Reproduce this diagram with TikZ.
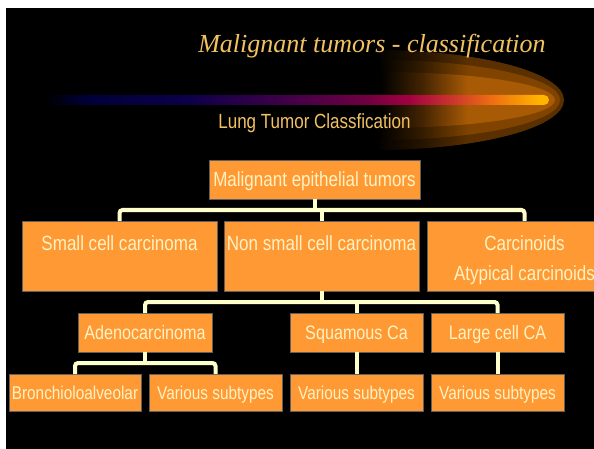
\documentclass[tikz,border=0pt]{standalone}
\usepackage{fontspec}
\setmainfont{Liberation Serif}
\newfontfamily\boxfont[FakeStretch=0.83]{Liberation Sans}
\usetikzlibrary{calc}
\definecolor{boxfill}{HTML}{FF9933}
\definecolor{boxline}{HTML}{5F5F5F}
\definecolor{boxtext}{HTML}{FFF2C4}
\definecolor{connc}{HTML}{FFFFCC}
\definecolor{titlec}{HTML}{F2C262}
\definecolor{s1}{HTML}{000038}
\definecolor{s2}{HTML}{0C0048}
\definecolor{s3}{HTML}{400048}
\definecolor{s4}{HTML}{700040}
\definecolor{s5}{HTML}{A00040}
\definecolor{s6}{HTML}{C83030}
\definecolor{s7}{HTML}{F07010}
\definecolor{s8}{HTML}{FFB400}
\definecolor{cA}{HTML}{5A3000}
\definecolor{cB}{HTML}{804400}
\definecolor{cC}{HTML}{A85A05}
\colorlet{cAd}{cA!40!black}
\colorlet{cBd}{cB!40!black}
\colorlet{cCd}{cC!40!black}
\pgfdeclarehorizontalshading{streak}{100bp}{color(0bp)=(black); color(25bp)=(black); color(29bp)=(s1); color(39bp)=(s2); color(49bp)=(s3); color(57bp)=(s4); color(61bp)=(s5); color(65bp)=(s6); color(69.5bp)=(s7); color(74bp)=(s8); color(100bp)=(s8)}
\pgfdeclarehorizontalshading{cometA}{100bp}{color(0bp)=(black); color(25bp)=(black); color(37bp)=(cAd); color(50bp)=(cA); color(100bp)=(cA)}
\pgfdeclarehorizontalshading{cometB}{100bp}{color(0bp)=(black); color(25bp)=(black); color(37bp)=(cBd); color(50bp)=(cB); color(100bp)=(cB)}
\pgfdeclarehorizontalshading{cometC}{100bp}{color(0bp)=(black); color(25bp)=(black); color(37bp)=(cCd); color(50bp)=(cC); color(100bp)=(cC)}
\tikzset{
  box/.style={draw=boxline, line width=0.8pt, fill=boxfill, text=boxtext,
    inner sep=0pt, outer sep=0pt, anchor=north west,
    font=\boxfont\fontsize{20.5}{30}\selectfont, text height=14.6pt, text depth=0pt},
  boxB/.style={box, font=\boxfont\fontsize{19.5}{24}\selectfont, text height=14pt},
  boxC/.style={box, font=\boxfont\fontsize{18.5}{24}\selectfont, text height=13.3pt},
  tall/.style={box, text depth=26pt},
  conn/.style={draw=connc, line width=4pt, rounded corners=3pt},
  ttl/.style={text=titlec, inner sep=0pt, anchor=base}
}
\begin{document}
\begin{tikzpicture}[x=1pt, y=-1pt]
\useasboundingbox (0,0) rectangle (594,449);
\clip (0,0) rectangle (594,449);
\fill[white] (0,0) rectangle (594,449);
\fill[black] (6,8) rectangle (594,449);
% comet glow
\shade[shading=cometA] (375,50) arc (-90:90:189 and 50) -- cycle;
\shade[shading=cometB] (378,60) arc (-90:90:182 and 40) -- cycle;
\shade[shading=cometC] (380,72) arc (-90:90:175 and 28) -- cycle;
% streak
\shade[shading=streak] (45,95) -- (544,95) arc (-90:90:5) -- (45,105) -- cycle;
% titles
\node[ttl, font=\fontsize{26}{30}\selectfont\itshape] (title) at (372,53) {Malignant tumors - classification};
\node[ttl, font=\boxfont\fontsize{20.5}{24}\selectfont] (subtitle) at (314.5,129) {Lung Tumor Classfication};
% boxes
\node[box, minimum width=211pt, minimum height=39pt] (met) at (209,160) {Malignant epithelial tumors};
\node[tall, minimum width=195pt, minimum height=70pt] (sc) at (22,221) {Small cell carcinoma};
\node[tall, minimum width=195pt, minimum height=70pt] (nsc) at (224,221) {Non small cell carcinoma};
\node[tall, minimum width=195pt, minimum height=70pt] (car) at (427,221) {\begin{tabular}[t]{@{}c@{}}Carcinoids\\Atypical carcinoids\end{tabular}};
\node[boxB, minimum width=134pt, minimum height=39pt] (ade) at (78,313) {Adenocarcinoma};
\node[boxB, minimum width=133pt, minimum height=39pt] (sq) at (290,313) {Squamous Ca};
\node[boxB, minimum width=133pt, minimum height=39pt] (lc) at (431,313) {Large cell CA};
\node[boxC, minimum width=132pt, minimum height=37pt] (br) at (9,374) {Bronchioloalveolar};
\node[boxC, minimum width=133pt, minimum height=37pt] (v1) at (149,374) {Various subtypes};
\node[boxC, minimum width=133pt, minimum height=37pt] (v2) at (290,374) {Various subtypes};
\node[boxC, minimum width=133pt, minimum height=37pt] (v3) at (431,374) {Various subtypes};
% connectors
\coordinate (b1) at ($(met.south)+(0,11)$);
\coordinate (b2) at ($(nsc.south)+(0,11)$);
\coordinate (b3) at ($(ade.south)+(0,11)$);
\draw[conn] (met.south) -- (b1);
\draw[conn] (sc.north) |- (b1) -| (car.north);
\draw[conn] (nsc.north) -- (nsc.north |- b1);
\draw[conn] (nsc.south) -- (b2);
\draw[conn] (ade.north) |- (b2) -| (lc.north);
\draw[conn] (sq.north) -- (sq.north |- b2);
\draw[conn] (ade.south) -- (b3);
\draw[conn] (br.north) |- (b3) -| (v1.north);
\draw[conn] (sq.south) -- (v2.north);
\draw[conn] (lc.south) -- (v3.north);
\end{tikzpicture}
\end{document}
